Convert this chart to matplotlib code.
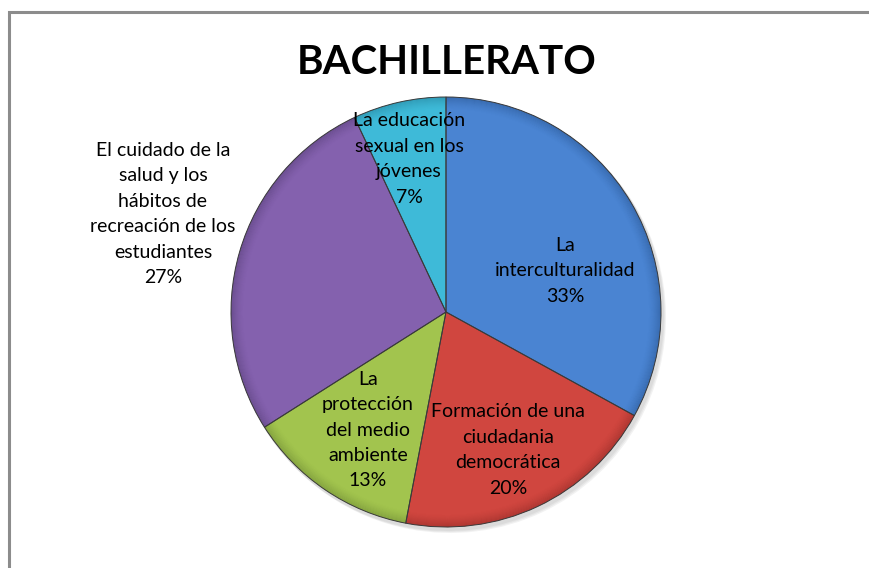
import matplotlib
matplotlib.use("Agg")
import matplotlib.pyplot as plt
from matplotlib.patches import Wedge
import numpy as np

title = "BACHILLERATO"
categories = [
    "La\ninterculturalidad",
    "Formación de una\nciudadania\ndemocrática",
    "La\nprotección\ndel medio\nambiente",
    "El cuidado de la\nsalud y los\nhábitos de\nrecreación de los\nestudiantes",
    "La educación\nsexual en los\njóvenes",
]
values = [33, 20, 13, 27, 7]
colors = ["#4A84D2", "#D0463F", "#A2C44E", "#8461AE", "#3EBAD8"]
edge_colors = ["#2C5A98", "#952C28", "#6F8C35", "#5A417C", "#27869F"]

W, H = 870, 568
fig = plt.figure(figsize=(W / 100, H / 100), dpi=100)
ax = fig.add_axes([0, 0, 1, 1])

# frame
ax.plot([9, 9, W + 5], [-5, H - 12, H - 12], color="#8C8C8C", lw=2.2,
        solid_joinstyle="miter", clip_on=False)

cx, cy, r = 446, H - 312, 215

# soft shadow
for k, a in enumerate([0.10, 0.10, 0.10]):
    ax.pie(values, startangle=90, counterclock=False,
           center=(cx + 2 + k, cy - 3 - k), radius=r + 1,
           colors=["#808080"] * len(values), wedgeprops=dict(linewidth=0, alpha=a),
           frame=True)

wedges, _ = ax.pie(values, startangle=90, counterclock=False, center=(cx, cy), radius=r,
                   colors=colors, wedgeprops=dict(linewidth=0), frame=True)
# bevel: gradient darker rim
n = 12
for i, w in enumerate(wedges):
    t1, t2 = w.theta1, w.theta2
    for k in range(n):
        ax.add_patch(Wedge((cx, cy), r - k * 1.0, t1, t2, width=1.0,
                           facecolor=edge_colors[i], alpha=0.6 * (1 - k / n) ** 1.5, lw=0))
    ax.add_patch(Wedge((cx, cy), r, t1, t2, facecolor="none",
                       edgecolor="#3A3A3A", lw=0.7))
ax.set_xlim(0, W)
ax.set_ylim(0, H)
ax.set_aspect("equal")
ax.axis("off")

font = "Lato"
ax.text(447, H - 62, title, ha="center", va="center", fontsize=29,
        fontweight="bold", family=font, color="black")

label_pos = [(565, 271), (508, 450), (368, 430), (163, 214), (409, 159)]
for lab, v, (x, y) in zip(categories, values, label_pos):
    ax.text(x, H - y, f"{lab}\n{v}%", ha="center", va="center", fontsize=14,
            family=font, color="black", linespacing=1.6)

fig.savefig("out.png", dpi=100)
